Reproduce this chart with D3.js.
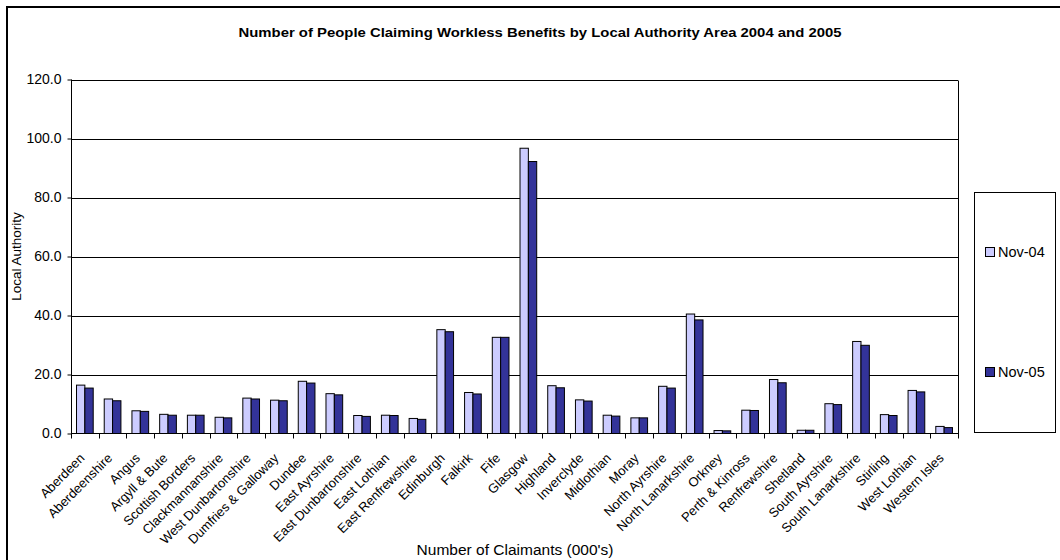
<!DOCTYPE html>
<html>
<head>
<meta charset="utf-8">
<script src="https://cdn.jsdelivr.net/npm/d3@7"></script>
<style>
  html, body { margin: 0; padding: 0; background: #fff; }
  svg { display: block; font-family: Arial, "Liberation Sans", sans-serif; }
</style>
</head>
<body>
<svg id="chart" width="1060" height="560"></svg>
<script>
// Local authority areas (x categories)
const areas = [
  "Aberdeen", "Aberdeenshire", "Angus", "Argyll & Bute", "Scottish Borders",
  "Clackmannanshire", "West Dunbartonshire", "Dumfries & Galloway", "Dundee",
  "East Ayrshire", "East Dunbartonshire", "East Lothian", "East Renfrewshire",
  "Edinburgh", "Falkirk", "Fife", "Glasgow", "Highland", "Inverclyde",
  "Midlothian", "Moray", "North Ayrshire", "North Lanarkshire", "Orkney",
  "Perth & Kinross", "Renfrewshire", "Shetland", "South Ayrshire",
  "South Lanarkshire", "Stirling", "West Lothian", "Western Isles"
];

// Claimants (000's), November 2004
const nov04 = [
  16.4, 11.7, 7.7, 6.5, 6.2, 5.5, 12.0, 11.3, 17.7, 13.5, 6.1, 6.2, 5.1,
  35.2, 13.9, 32.6, 96.7, 16.2, 11.4, 6.2, 5.3, 16.0, 40.5, 1.0, 7.9,
  18.3, 1.1, 10.1, 31.2, 6.4, 14.6, 2.4
];

// Claimants (000's), November 2005
const nov05 = [
  15.4, 11.1, 7.5, 6.2, 6.2, 5.3, 11.7, 11.1, 17.1, 13.1, 5.8, 6.1, 4.8,
  34.5, 13.4, 32.6, 92.2, 15.5, 11.0, 5.9, 5.3, 15.4, 38.5, 0.9, 7.8,
  17.2, 1.1, 9.8, 29.9, 6.1, 14.1, 2.0
];

const seriesNames = ["Nov-04", "Nov-05"];
const seriesColors = ["#CCCCFF", "#333399"];
const yTicks = [0, 20, 40, 60, 80, 100, 120];

const svg = d3.select("#chart");

// Outer chart frame
svg.append("rect")
  .attr("x", 7).attr("y", 7)
  .attr("width", 1070).attr("height", 570)
  .attr("fill", "none").attr("stroke", "#000").attr("stroke-width", 2);

const plot = { left: 71, right: 958, top: 79.5, bottom: 433.5 };

const x = d3.scaleBand()
  .domain(areas)
  .range([plot.left, plot.right])
  .padding(0);

const xSeries = d3.scaleBand()
  .domain(seriesNames)
  .range([0, x.bandwidth()])
  .paddingInner(0)
  .paddingOuter(0.66);

const y = d3.scaleLinear()
  .domain([0, 120])
  .range([plot.bottom, plot.top]);

// Horizontal gridlines
svg.append("g")
  .selectAll("line")
  .data(yTicks.filter(t => t > 0))
  .join("line")
  .attr("x1", plot.left).attr("x2", plot.right)
  .attr("y1", d => Math.round(y(d)) + 0.5)
  .attr("y2", d => Math.round(y(d)) + 0.5)
  .attr("stroke", "#000").attr("stroke-width", 1);

// Right edge of plot area
svg.append("line")
  .attr("x1", plot.right + 0.5).attr("x2", plot.right + 0.5)
  .attr("y1", Math.round(y(120)) + 0.5).attr("y2", plot.bottom)
  .attr("stroke", "#000").attr("stroke-width", 1);

// Bars
const rows = areas.map((a, i) => ({ area: a, values: [nov04[i], nov05[i]] }));

const groups = svg.append("g")
  .selectAll("g")
  .data(rows)
  .join("g")
  .attr("transform", d => `translate(${x(d.area)},0)`);

groups.selectAll("rect")
  .data(d => d.values.map((v, k) => ({ key: seriesNames[k], value: v, k })))
  .join("rect")
  .attr("x", d => xSeries(d.key))
  .attr("y", d => y(d.value))
  .attr("width", xSeries.bandwidth())
  .attr("height", d => y(0) - y(d.value))
  .attr("fill", d => seriesColors[d.k])
  .attr("stroke", "#000")
  .attr("stroke-width", 1);

// Y axis
const yAxis = d3.axisLeft(y)
  .tickValues(yTicks)
  .tickFormat(d3.format(".1f"))
  .tickSize(4)
  .tickPadding(6);

const yg = svg.append("g")
  .attr("transform", `translate(${plot.left + 0.5},0)`)
  .call(yAxis);
yg.select(".domain").attr("stroke", "#000").attr("d", `M0,${y(120)}V${plot.bottom}`);
yg.selectAll(".tick line").attr("stroke", "#000");
yg.selectAll(".tick text")
  .attr("font-size", "14px")
  .attr("font-family", "Arial, 'Liberation Sans', sans-serif")
  .attr("fill", "#000");

// X axis with ticks at category boundaries
const xg = svg.append("g")
  .attr("transform", `translate(0,${plot.bottom})`);
xg.append("line")
  .attr("x1", plot.left).attr("x2", plot.right + 1)
  .attr("stroke", "#000");
xg.selectAll("line.tick")
  .data(areas.concat(["__end"]))
  .join("line")
  .attr("class", "tick")
  .attr("x1", (d, i) => Math.round(plot.left + i * x.step()) + 0.5)
  .attr("x2", (d, i) => Math.round(plot.left + i * x.step()) + 0.5)
  .attr("y1", 0).attr("y2", 5)
  .attr("stroke", "#000");

xg.selectAll("text")
  .data(areas)
  .join("text")
  .attr("transform", d => `translate(${x(d) + x.bandwidth() / 2 - 6},${19}) rotate(-45)`)
  .attr("text-anchor", "end")
  .attr("dy", "0.7em")
  .attr("font-size", "13px")
  .attr("fill", "#000")
  .text(d => d);

// Title
svg.append("text")
  .attr("x", 540).attr("y", 37)
  .attr("text-anchor", "middle")
  .attr("font-size", "13.5px")
  .attr("font-weight", "bold")
  .attr("textLength", 603)
  .attr("lengthAdjust", "spacingAndGlyphs")
  .text("Number of People Claiming Workless Benefits by Local Authority Area 2004 and 2005");

// Axis titles
svg.append("text")
  .attr("x", 515).attr("y", 555)
  .attr("text-anchor", "middle")
  .attr("font-size", "15.5px")
  .text("Number of Claimants (000's)");

svg.append("text")
  .attr("transform", `translate(21,${(plot.top + plot.bottom) / 2}) rotate(-90)`)
  .attr("text-anchor", "middle")
  .attr("font-size", "13.5px")
  .text("Local Authority");

// Legend
const legend = svg.append("g");
legend.append("rect")
  .attr("x", 974.5).attr("y", 192.5)
  .attr("width", 81).attr("height", 240)
  .attr("fill", "#fff").attr("stroke", "#000").attr("stroke-width", 1);

const legendY = [252, 372];
seriesNames.forEach((name, k) => {
  legend.append("rect")
    .attr("x", 985.5).attr("y", legendY[k] - 4.5)
    .attr("width", 9).attr("height", 9)
    .attr("fill", seriesColors[k]).attr("stroke", "#000");
  legend.append("text")
    .attr("x", 998).attr("y", legendY[k])
    .attr("dy", "0.36em")
    .attr("font-size", "14.5px")
    .text(name);
});
</script>
</body>
</html>
